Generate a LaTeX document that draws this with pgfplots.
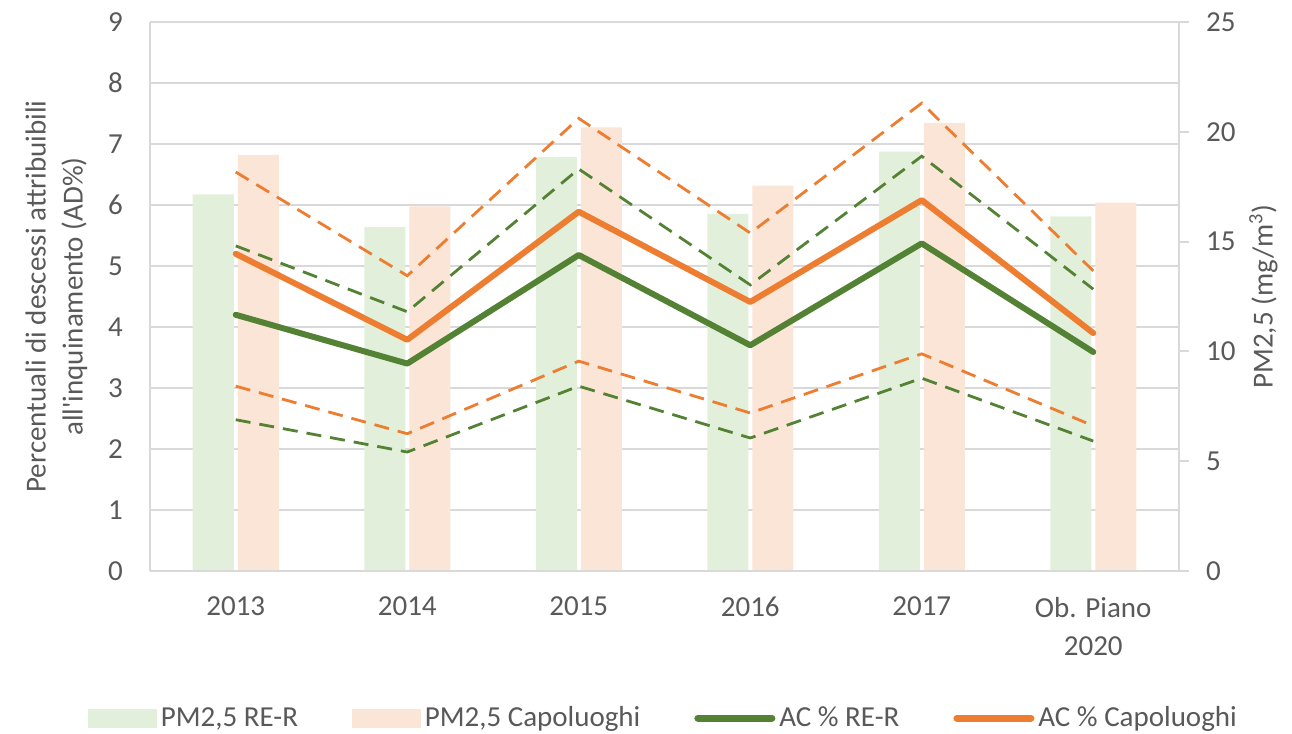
\documentclass[border=0pt]{standalone}
\usepackage{pgfplots}
\pgfplotsset{compat=1.18}
\usepackage{fontspec}
\setmainfont{Carlito}
\usetikzlibrary{calc}
\definecolor{gridgray}{HTML}{D9D9D9}
\definecolor{txt}{HTML}{595959}
\definecolor{lgreen}{HTML}{E2EFDA}
\definecolor{lorange}{HTML}{FBE5D6}
\definecolor{dgreen}{HTML}{548235}
\definecolor{dorange}{HTML}{ED7D31}
\pgfplotsset{
 base/.style={
  scale only axis, width=514.5pt, height=274.5pt,
  xmin=-0.5, xmax=5.5,
  /pgf/number format/assume math mode=true,
  tick label style={font=\fontsize{14.5}{19}\selectfont, text=txt},
  label style={font=\fontsize{14.5}{18.5}\selectfont, text=txt},
 },
 lineleg/.style={legend image code/.code={\draw[##1, line width=3.5pt] (0pt,0pt) -- (37pt,0pt);}},
 greenleg/.style={legend image code/.code={\fill[lgreen] (0pt,-4.5pt) rectangle (34pt,4.5pt);}},
 orangeleg/.style={legend image code/.code={\fill[lorange] (0pt,-4.5pt) rectangle (34pt,4.5pt);}},
 dashed bound/.style={line width=1.4pt, dash pattern=on 7.5pt off 4.5pt, forget plot},
}
\begin{document}
\begin{tikzpicture}
% axis 1: left scale, grid, left labels
\begin{axis}[base, name=ax, ymin=0, ymax=9, ytick={0,...,9},
  axis x line=none, axis y line*=left,
  axis line style={gridgray, line width=1pt, -},
  major tick length=0pt,
  ymajorgrids, major grid style={gridgray, line width=1pt},
  yticklabel style={xshift=-10pt},
  ylabel={Percentuali di descessi attribuibili\\all\textquotesingle inquinamento (AD\%)},
  ylabel style={align=center, at={(axis description cs:-0.091,0.5)}, anchor=center},
]
\addplot[draw=none, forget plot] coordinates {(0,0)};
\end{axis}
% axis 2: bars, right scale
\begin{axis}[base, ymin=0, ymax=25, ytick={0,5,...,25},
  axis x line=none, axis y line*=right,
  axis line style={gridgray, line width=1pt, -},
  tick style={gridgray, line width=1pt}, tick align=outside, major tick length=5pt,
  yticklabel style={xshift=5pt},
  ybar, bar width=20.5pt,
  ylabel={PM2,5 (mg/m\textsuperscript{3})},
  ylabel style={at={(axis description cs:1.082,0.5)}, anchor=center},
]
\addplot[fill=lgreen, draw=none] coordinates {(0,17.15) (1,15.66) (2,18.85) (3,16.26) (4,19.1) (5,16.15)};
\addplot[fill=lorange, draw=none] coordinates {(0,18.95) (1,16.6) (2,20.2) (3,17.55) (4,20.4) (5,16.77)};
\end{axis}
% axis 3: lines, x labels, legend
\begin{axis}[base, ymin=0, ymax=9,
  axis y line=none, axis x line*=bottom,
  axis line style={gridgray, line width=1pt, -},
  major tick length=0pt,
  xtick={0,...,5}, xticklabels={2013,2014,2015,2016,2017,{Ob. Piano\\2020}},
  xticklabel style={align=center, yshift=-9.5pt},
  legend columns=4,
  legend style={at={(0.5,-0.268)}, anchor=center, draw=none, fill=none,
    font=\fontsize{14.5}{17}\selectfont, text=txt,
    /tikz/every even column/.append style={column sep=25pt}},
  legend cell align=left,
]
\addlegendimage{greenleg}
\addlegendentry{PM2,5 RE-R}
\addlegendimage{orangeleg}
\addlegendentry{PM2,5 Capoluoghi}
% dashed bounds
\addplot[dgreen, dashed bound] coordinates {(0,5.33) (1,4.25) (2,6.59) (3,4.69) (4,6.8) (5,4.62)};
\addplot[dorange, dashed bound] coordinates {(0,6.54) (1,4.84) (2,7.42) (3,5.54) (4,7.67) (5,4.92)};
\addplot[dgreen, dashed bound] coordinates {(0,2.48) (1,1.95) (2,3.03) (3,2.18) (4,3.16) (5,2.13)};
\addplot[dorange, dashed bound] coordinates {(0,3.03) (1,2.25) (2,3.44) (3,2.59) (4,3.56) (5,2.38)};
% solid
\addplot[dgreen, line width=3pt, line cap=round, line join=round, lineleg]
  coordinates {(0,4.2) (1,3.4) (2,5.18) (3,3.7) (4,5.37) (5,3.59)};
\addlegendentry{AC \% RE-R}
\addplot[dorange, line width=3pt, line cap=round, line join=round, lineleg]
  coordinates {(0,5.2) (1,3.79) (2,5.89) (3,4.41) (4,6.08) (5,3.9)};
\addlegendentry{AC \% Capoluoghi}
\end{axis}
\pgfresetboundingbox
\path[use as bounding box] ($(ax.south west)+(-75pt,-81.5pt)$) rectangle ($(ax.north east)+(56.5pt,11pt)$);
\end{tikzpicture}
\end{document}
